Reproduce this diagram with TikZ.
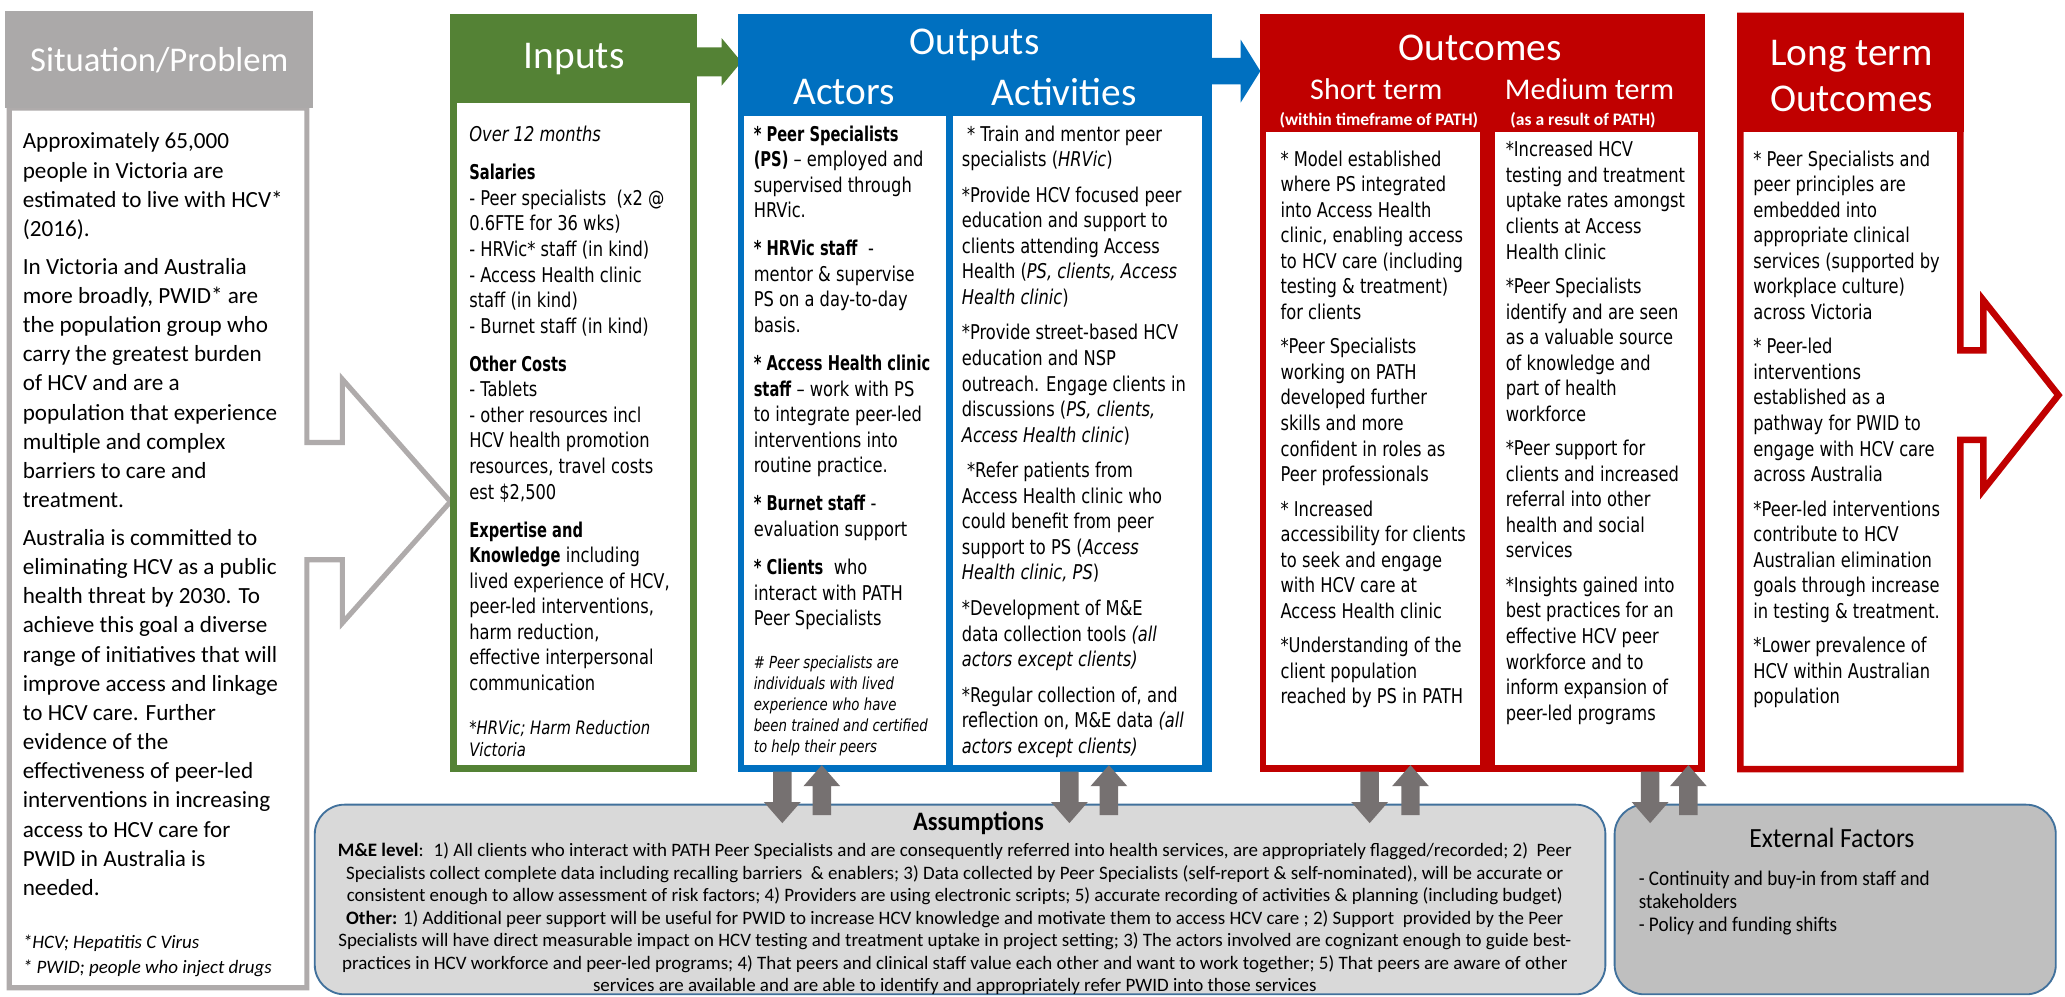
\documentclass[tikz,border=0pt]{standalone}
\usepackage{fontspec}
\setmainfont{Carlito}
\newfontfamily\colfont{DejaVu Sans}[UprightFeatures={FakeStretch=0.8}, BoldFeatures={FakeStretch=0.72}, ItalicFeatures={FakeStretch=0.8}, BoldItalicFeatures={FakeStretch=0.72}]
\newfontfamily\narrowfont{Carlito}[FakeStretch=0.92]
\definecolor{sitgray}{HTML}{ABA9A9}
\definecolor{sitedge}{HTML}{AFABAB}
\definecolor{ingreen}{HTML}{548235}
\definecolor{outblue}{HTML}{0070C0}
\definecolor{outred}{HTML}{C00000}
\definecolor{arrgray}{HTML}{767171}
\definecolor{assfill}{HTML}{D9D9D9}
\definecolor{extfill}{HTML}{BFBFBF}
\definecolor{boxedge}{HTML}{41719C}
\newcommand{\gapA}{\\[5.4pt]}
\newcommand{\gapB}{\\[3.8pt]}
\newcommand{\gapC}{\\[4.3pt]}

\begin{document}
\begin{tikzpicture}[x=0.02cm, y=-0.02cm,
    head/.style={text=white, inner sep=0pt, align=center, font=\fontsize{17}{20}\selectfont},
    subhead/.style={text=white, inner sep=0pt, font=\fontsize{13}{15}\selectfont},
    subnote/.style={text=white, inner sep=0pt, font=\bfseries\fontsize{7.6}{9}\selectfont},
    coltext/.style={anchor=north west, inner sep=0pt, align=left, font=\colfont\fontsize{8.8}{11.05}\selectfont},
    colnote/.style={anchor=north west, inner sep=0pt, align=left, font=\colfont\itshape\fontsize{7.2}{9}\selectfont},
    sittext/.style={anchor=north west, inner sep=0pt, align=left, font=\fontsize{10}{12.6}\selectfont},
    roundbox/.style={draw=boxedge, line width=0.8pt, rounded corners=0.45cm}]
    \useasboundingbox (0,0) rectangle (1568,757);

    % situation / problem
    \draw[sitedge, line width=2.2pt, fill=white] (7,82) -- (233,82) -- (233,336) -- (260,336) -- (260,288) -- (342,381) -- (260,473) -- (260,425) -- (233,425) -- (233,750) -- (7,750) -- cycle;
    \fill[sitgray] (4,8) rectangle (238,82);
    \node[head, font=\fontsize{15}{18}\selectfont] (sithead) at (121,46) {Situation/Problem};
    \node[sittext] (sitbody) at (17,100.5) {Approximately 65,000\\people in Victoria are\\estimated to live with HCV*\\(2016).\\[3.8pt]
        In Victoria and Australia\\more broadly, PWID* are\\the population group who\\carry the greatest burden\\of HCV and are a\\population that experience\\multiple and complex\\barriers to care and\\treatment.\\[3.8pt]
        Australia is committed to\\eliminating HCV as a public\\health threat by 2030. To\\achieve this goal a diverse\\range of initiatives that will\\improve access and linkage\\to HCV care. Further\\evidence of the\\effectiveness of peer-led\\interventions in increasing\\access to HCV care for\\PWID in Australia is\\needed.};
    \node[sittext, font=\itshape\fontsize{8.2}{10.8}\selectfont] (sitnote) at (17,710) {*HCV; Hepatitis C Virus\\* PWID; people who inject drugs};

    % inputs
    \fill[ingreen] (342,11) rectangle (529,586);
    \fill[white] (347,78) rectangle (524,581);
    \node[head] (inhead) at (436,45) {Inputs};
    \fill[ingreen] (529,36) -- (548,36) -- (548,29) -- (563,47) -- (548,65) -- (548,58) -- (529,58) -- cycle;
    \node[coltext] (inbody) at (356,95.5) {\textit{Over 12 months}\gapA
        \textbf{Salaries}\\- Peer specialists~ (x2 @\\0.6FTE for 36 wks)\\- HRVic* staff (in kind)\\- Access Health clinic\\staff (in kind)\\- Burnet staff (in kind)\gapA
        \textbf{Other Costs}\\- Tablets\\- other resources incl\\HCV health promotion\\resources, travel costs\\est \$2,500\gapA
        \textbf{Expertise and}\\\textbf{Knowledge} including\\lived experience of HCV,\\peer-led interventions,\\harm reduction,\\effective interpersonal\\communication};
    \node[colnote, font=\colfont\itshape\fontsize{8}{9.5}\selectfont] (innote) at (356,547) {*HRVic; Harm Reduction\\Victoria};

    % outputs
    \fill[outblue] (560,11) rectangle (920,586);
    \fill[white] (565,88) rectangle (718,581);
    \fill[white] (724,88) rectangle (913,581);
    \node[head] (outhead) at (740,34) {Outputs};
    \node[head] (acthead) at (641,70) {Actors};
    \node[head] (activhead) at (808,70) {Activities};
    \fill[outblue] (920,44) -- (942,44) -- (942,30) -- (957,54) -- (942,78) -- (942,64) -- (920,64) -- cycle;
    \node[coltext] (actbody) at (572,95) {\textbf{* Peer Specialists}\\\textbf{(PS)} – employed and\\supervised through\\HRVic.\gapA
        \textbf{* HRVic staff}~ -\\mentor \& supervise\\PS on a day-to-day\\basis.\gapA
        \textbf{* Access Health clinic}\\\textbf{staff} – work with PS\\to integrate peer-led\\interventions into\\routine practice.\gapA
        \textbf{* Burnet staff} -\\evaluation support\gapA
        \textbf{* Clients}~ who\\interact with PATH\\Peer Specialists};
    \node[colnote] (actnote) at (572,498) {\# Peer specialists are\\individuals with lived\\experience who have\\been trained and certified\\to help their peers};
    \node[coltext] (activbody) at (730,95) {~* Train and mentor peer\\specialists (\textit{HRVic})\gapC
        *Provide HCV focused peer\\education and support to\\clients attending Access\\Health (\textit{PS, clients, Access}\\\textit{Health clinic})\gapC
        *Provide street-based HCV\\education and NSP\\outreach. Engage clients in\\discussions (\textit{PS, clients,}\\\textit{Access Health clinic})\gapC
        ~*Refer patients from\\Access Health clinic who\\could benefit from peer\\support to PS (\textit{Access}\\\textit{Health clinic, PS})\gapC
        *Development of M\&E\\data collection tools \textit{(all}\\\textit{actors except clients)}\gapC
        *Regular collection of, and\\reflection on, M\&E data \textit{(all}\\\textit{actors except clients)}};

    % outcomes
    \fill[outred] (957,11) rectangle (1295,586);
    \fill[white] (961,100) rectangle (1124,581);
    \fill[white] (1135,100) rectangle (1289,581);
    \node[head] (ochead) at (1124,36) {Outcomes};
    \node[subhead] (shorthead) at (1045,68) {Short term};
    \node[subnote] (shortnote) at (1047,91) {(within timeframe of PATH)};
    \node[subhead] (medhead) at (1207,68) {Medium term};
    \node[subnote] (mednote) at (1202,91) {(as a result of PATH)};
    \node[coltext] (shortbody) at (972,114) {* Model established\\where PS integrated\\into Access Health\\clinic, enabling access\\to HCV care (including\\testing \& treatment)\\for clients\gapB
        *Peer Specialists\\working on PATH\\developed further\\skills and more\\confident in roles as\\Peer professionals\gapB
        * Increased\\accessibility for clients\\to seek and engage\\with HCV care at\\Access Health clinic\gapB
        *Understanding of the\\client population\\reached by PS in PATH};
    \node[coltext] (medbody) at (1143,107) {*Increased HCV\\testing and treatment\\uptake rates amongst\\clients at Access\\Health clinic\gapB
        *Peer Specialists\\identify and are seen\\as a valuable source\\of knowledge and\\part of health\\workforce\gapB
        *Peer support for\\clients and increased\\referral into other\\health and social\\services\gapB
        *Insights gained into\\best practices for an\\effective HCV peer\\workforce and to\\inform expansion of\\peer-led programs};

    % long term outcomes
    \draw[outred, line width=0.1cm, fill=white] (1321.5,12) -- (1488.5,12) -- (1488.5,266) -- (1506,266) -- (1506,228) -- (1563,300) -- (1506,372) -- (1506,334) -- (1488.5,334) -- (1488.5,584) -- (1321.5,584) -- cycle;
    \fill[outred] (1319,10) rectangle (1491,100);
    \node[head] (lthead) at (1406,58) {Long term\\Outcomes};
    \node[coltext] (ltbody) at (1331,114) {* Peer Specialists and\\peer principles are\\embedded into\\appropriate clinical\\services (supported by\\workplace culture)\\across Victoria\gapB
        * Peer-led\\interventions\\established as a\\pathway for PWID to\\engage with HCV care\\across Australia\gapB
        *Peer-led interventions\\contribute to HCV\\Australian elimination\\goals through increase\\in testing \& treatment.\gapB
        *Lower prevalence of\\HCV within Australian\\population};

    % assumptions and external factors
    \draw[roundbox, fill=assfill] (239,611) rectangle (1219,755);
    \draw[roundbox, fill=extfill] (1226,611) rectangle (1561,755);
    \node[inner sep=0pt, font=\narrowfont\bfseries\fontsize{11.5}{14}\selectfont] (asshead) at (743,625) {Assumptions};
    \node[anchor=north, inner sep=0pt, align=center, font=\fontsize{8.2}{9.75}\selectfont] (asstext) at (725,639.5) {\textbf{M\&E level}:~ 1) All clients who interact with PATH Peer Specialists and are consequently referred into health services, are appropriately flagged/recorded; 2)~ Peer\\
        Specialists collect complete data including recalling barriers~ \& enablers; 3) Data collected by Peer Specialists (self-report \& self-nominated), will be accurate or\\
        consistent enough to allow assessment of risk factors; 4) Providers are using electronic scripts; 5) accurate recording of activities \& planning (including budget)\\
        \textbf{Other:} 1) Additional peer support will be useful for PWID to increase HCV knowledge and motivate them to access HCV care ; 2) Support~ provided by the Peer\\
        Specialists will have direct measurable impact on HCV testing and treatment uptake in project setting; 3) The actors involved are cognizant enough to guide best-\\
        practices in HCV workforce and peer-led programs; 4) That peers and clinical staff value each other and want to work together; 5) That peers are aware of other\\
        services are available and are able to identify and appropriately refer PWID into those services};
    \node[inner sep=0pt, font=\narrowfont\fontsize{12}{14}\selectfont] (exthead) at (1391,636) {External Factors};
    \node[anchor=north west, inner sep=0pt, align=left, font=\narrowfont\fontsize{9}{9.8}\selectfont] (exttext) at (1244,661) {- Continuity and buy-in from staff and\\stakeholders\\[0.5pt]- Policy and funding shifts};

    % arrows between the columns and the boxes below
    \foreach \xd/\xu in {594/624, 812/842, 1040/1071, 1253/1282} {
        \fill[arrgray] (\xd-7,586) -- (\xd+7,586) -- (\xd+7,609) -- (\xd+14,609) -- (\xd,625) -- (\xd-14,609) -- (\xd-7,609) -- cycle;
        \fill[arrgray] (\xu-7,619) -- (\xu-7,597) -- (\xu-14,597) -- (\xu,581) -- (\xu+14,597) -- (\xu+7,597) -- (\xu+7,619) -- cycle;
    }
\end{tikzpicture}
\end{document}
